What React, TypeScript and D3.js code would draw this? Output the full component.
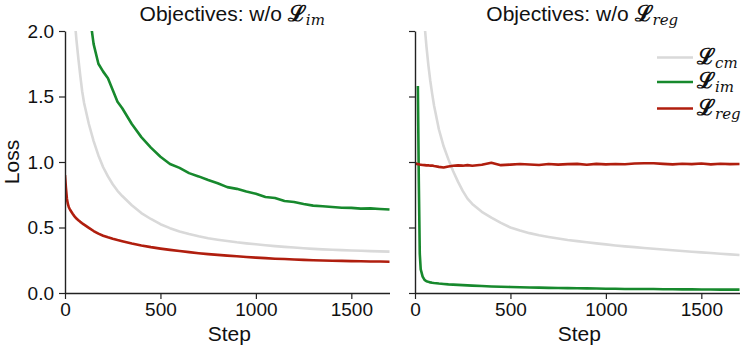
import React, { useEffect, useRef } from "react";
import * as d3 from "d3";

const steps = [0, 5, 10, 15, 20, 25, 30, 40, 50, 60, 70, 80, 90, 100, 125, 150, 175, 200, 225, 250, 275, 300, 350, 400, 450, 500, 550, 600, 650, 700, 750, 800, 850, 900, 950, 1000, 1050, 1100, 1150, 1200, 1250, 1300, 1350, 1400, 1450, 1500, 1550, 1600, 1650, 1700];

// Panel A: w/o L_im
const cmA = [4.5, 4.1, 3.7, 3.4, 3.1, 2.9, 2.7, 2.4, 2.1, 1.93, 1.79, 1.66, 1.54, 1.45, 1.29, 1.16, 1.05, 0.96, 0.89, 0.83, 0.78, 0.74, 0.67, 0.61, 0.565, 0.525, 0.495, 0.47, 0.45, 0.433, 0.418, 0.407, 0.397, 0.387, 0.379, 0.372, 0.365, 0.358, 0.352, 0.347, 0.342, 0.337, 0.333, 0.33, 0.327, 0.324, 0.322, 0.32, 0.318, 0.316];
const imA = [6.0, 5.7, 5.4, 5.1, 4.8, 4.6, 4.4, 4.0, 3.6, 3.3, 3.05, 2.85, 2.65, 2.48, 2.17, 1.9, 1.75, 1.69, 1.64, 1.55, 1.46, 1.41, 1.29, 1.19, 1.11, 1.04, 0.985, 0.955, 0.915, 0.89, 0.862, 0.838, 0.808, 0.795, 0.775, 0.758, 0.733, 0.725, 0.702, 0.695, 0.68, 0.667, 0.662, 0.656, 0.651, 0.65, 0.644, 0.646, 0.641, 0.637];
const regA = [0.9, 0.8, 0.72, 0.68, 0.655, 0.64, 0.628, 0.605, 0.585, 0.568, 0.555, 0.543, 0.532, 0.522, 0.497, 0.473, 0.453, 0.437, 0.425, 0.414, 0.404, 0.395, 0.378, 0.363, 0.35, 0.339, 0.329, 0.32, 0.312, 0.304, 0.297, 0.291, 0.285, 0.28, 0.275, 0.27, 0.266, 0.262, 0.259, 0.256, 0.253, 0.25, 0.248, 0.246, 0.245, 0.243, 0.242, 0.241, 0.24, 0.239];

// Panel B: w/o L_reg
const cmB = [4.5, 4.0, 3.6, 3.3, 3.0, 2.8, 2.6, 2.3, 2.05, 1.88, 1.74, 1.62, 1.52, 1.43, 1.25, 1.12, 1.02, 0.93, 0.85, 0.78, 0.72, 0.68, 0.62, 0.575, 0.535, 0.5, 0.477, 0.457, 0.441, 0.428, 0.416, 0.405, 0.396, 0.387, 0.379, 0.371, 0.363, 0.356, 0.35, 0.344, 0.338, 0.332, 0.326, 0.321, 0.315, 0.31, 0.305, 0.3, 0.295, 0.29];
const imB = [null, null, null, 1.58, 0.85, 0.3, 0.18, 0.125, 0.1, 0.09, 0.085, 0.081, 0.078, 0.076, 0.072, 0.069, 0.066, 0.064, 0.062, 0.06, 0.058, 0.056, 0.053, 0.05, 0.048, 0.046, 0.044, 0.042, 0.041, 0.039, 0.038, 0.037, 0.036, 0.035, 0.034, 0.033, 0.032, 0.031, 0.031, 0.03, 0.03, 0.029, 0.029, 0.028, 0.028, 0.027, 0.027, 0.026, 0.026, 0.026];
const regB = [0.99, 0.988, 0.985, 0.984, 0.982, 0.98, 0.979, 0.977, 0.976, 0.974, 0.975, 0.972, 0.973, 0.969, 0.963, 0.958, 0.966, 0.971, 0.974, 0.972, 0.976, 0.971, 0.979, 0.994, 0.976, 0.98, 0.985, 0.981, 0.977, 0.985, 0.98, 0.984, 0.986, 0.979, 0.986, 0.982, 0.985, 0.983, 0.988, 0.99, 0.991, 0.986, 0.982, 0.987, 0.984, 0.988, 0.982, 0.987, 0.984, 0.985];

const yTicks = [0, 0.5, 1.0, 1.5, 2.0];
const xTicks = [0, 500, 1000, 1500];
const seriesSubs = ["cm", "im", "reg"];
const seriesColors = ["#d9d9d9", "#17892d", "#b01e0e"];
const panelSubs = ["im", "reg"];

const SANS = "'Liberation Sans', Arial, Helvetica, sans-serif";
const SERIF = "'DejaVu Serif', 'Liberation Serif', serif";

export default function App() {
  const ref = useRef<SVGSVGElement | null>(null);

  useEffect(() => {
    const svg = d3.select(ref.current);
    svg.selectAll("*").remove();

    const panels = [
      { x0: 65, x1: 389.5, data: [cmA, imA, regA], sub: panelSubs[0], labels: true, legend: false },
      { x0: 415, x1: 739.5, data: [cmB, imB, regB], sub: panelSubs[1], labels: false, legend: true },
    ];
    const yTop = 31;
    const yBot = 293;

    panels.forEach((p, pi) => {
      const x = d3.scaleLinear().domain([0, 1700]).range([p.x0, p.x1]);
      const y = d3.scaleLinear().domain([0, 2]).range([yBot, yTop]);
      const g = svg.append("g");

      const clipId = `clip${pi}`;
      g.append("clipPath").attr("id", clipId)
        .append("rect").attr("x", p.x0).attr("y", yTop).attr("width", p.x1 - p.x0 + 2).attr("height", yBot - yTop);

      const line = d3.line<number | null>()
        .defined((d) => d !== null)
        .x((_, i) => x(steps[i]))
        .y((d) => y(d as number));

      p.data.forEach((arr, si) => {
        g.append("path")
          .attr("clip-path", `url(#${clipId})`)
          .attr("d", line(arr as (number | null)[]))
          .attr("fill", "none")
          .attr("stroke", seriesColors[si])
          .attr("stroke-width", 2.6)
          .attr("stroke-linejoin", "round");
      });

      const yAxis = d3.axisLeft(y).tickValues(yTicks).tickSize(6).tickSizeOuter(0).tickPadding(5)
        .tickFormat(p.labels ? (d) => d3.format(".1f")(d as number) : () => "");
      const ya = g.append("g").attr("transform", `translate(${p.x0},0)`).call(yAxis);
      const xAxis = d3.axisBottom(x).tickValues(xTicks).tickSize(6).tickSizeOuter(0).tickPadding(4)
        .tickFormat((d) => String(d));
      const xa = g.append("g").attr("transform", `translate(0,${yBot})`).call(xAxis);

      [ya, xa].forEach((a) => {
        a.select(".domain").attr("stroke", "#222").attr("stroke-width", 1.4);
        a.selectAll(".tick line").attr("stroke", "#222").attr("stroke-width", 1.2);
        a.selectAll(".tick text").attr("fill", "#111").attr("font-size", 19).attr("font-family", SANS);
      });

      const cx = (p.x0 + p.x1) / 2;
      g.append("text").attr("x", cx + 2).attr("y", 341).attr("text-anchor", "middle")
        .attr("font-family", SANS).attr("font-size", 21).attr("fill", "#111").text("Step");

      const t = g.append("text").attr("x", cx + 5).attr("y", 21).attr("text-anchor", "middle")
        .attr("font-family", SANS).attr("font-size", 21).attr("fill", "#111");
      t.append("tspan").text("Objectives: w/o ");
      t.append("tspan").attr("font-family", SERIF).attr("font-weight", "bold").attr("font-size", 22).text("ℒ");
      t.append("tspan").attr("font-family", SERIF).attr("font-style", "italic").attr("font-size", 15).attr("dy", 4).text(p.sub);

      if (p.labels) {
        g.append("text").attr("transform", `translate(19,${(yTop + yBot) / 2}) rotate(-90)`)
          .attr("text-anchor", "middle").attr("font-family", SANS).attr("font-size", 21).attr("fill", "#111").text("Loss");
      }

      if (p.legend) {
        const rows = [57.5, 82, 108.5];
        rows.forEach((ry, si) => {
          g.append("line").attr("x1", 657).attr("x2", 693).attr("y1", ry).attr("y2", ry)
            .attr("stroke", seriesColors[si]).attr("stroke-width", 2.6);
          const lt = g.append("text").attr("x", 697).attr("y", ry + 6).attr("font-family", SERIF).attr("fill", "#111");
          lt.append("tspan").attr("font-size", 22).attr("font-weight", "bold").text("ℒ");
          lt.append("tspan").attr("font-style", "italic").attr("font-size", 15).attr("dy", 4).text(seriesSubs[si]);
        });
      }
    });
  }, []);

  return (
    <svg ref={ref} width={747} height={347} style={{ position: "absolute", left: 0, top: 0, background: "#fff" }} />
  );
}
